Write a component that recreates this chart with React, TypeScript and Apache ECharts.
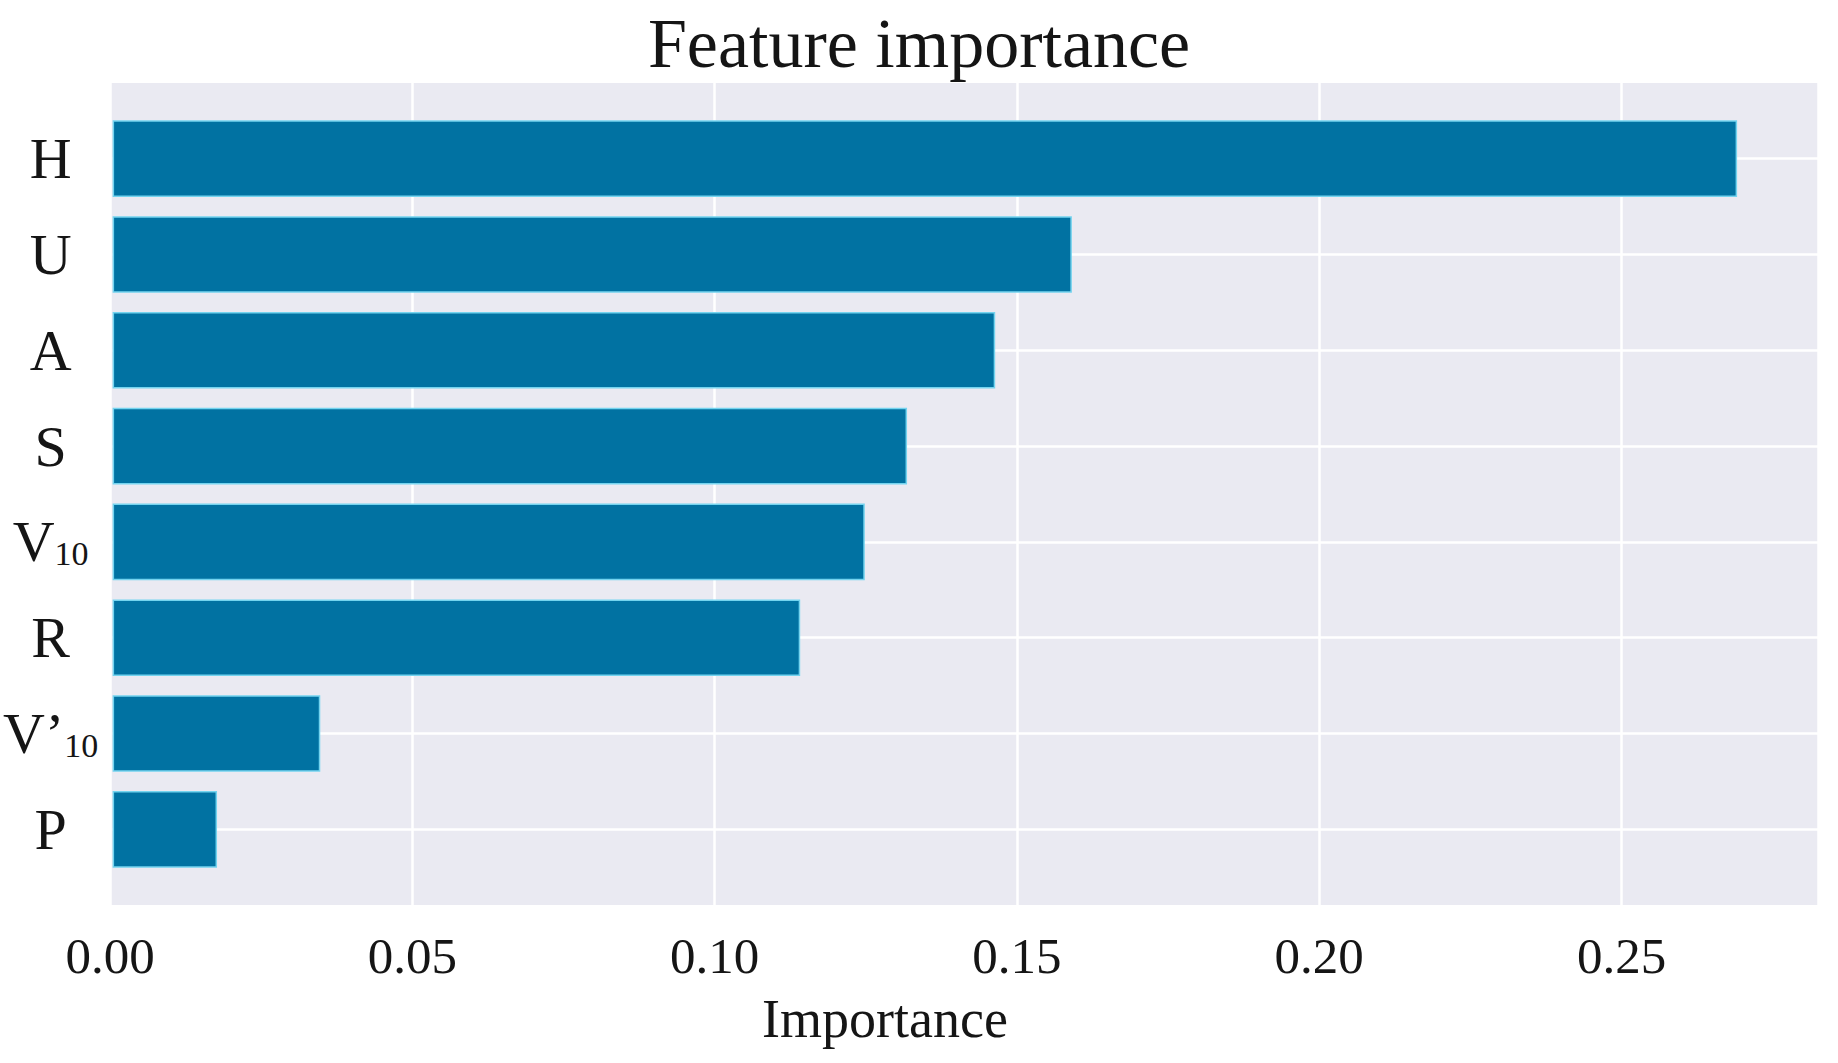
import React, { useEffect, useRef } from "react";
import * as echarts from "echarts";

const categories = ["H", "U", "A", "S", "V10", "R", "V’10", "P"];
const importance = [0.2691, 0.1589, 0.1462, 0.1316, 0.1246, 0.1139, 0.0344, 0.0173];
const xTicks = [0, 0.05, 0.1, 0.15, 0.2, 0.25];

const FONT = "'Liberation Serif', 'DejaVu Serif', serif";
const TEXT = "#151515";

function richLabel(v: string): string {
  const m = v.match(/^(.*?)(\d+)$/);
  if (m) return `{m|${m[1]}}{s|${m[2]}}`;
  return `{m|${v}}`;
}

export default function App() {
  const ref = useRef<HTMLDivElement>(null);
  useEffect(() => {
    document.body.style.margin = "0";
    if (!ref.current) return;
    const chart = echarts.init(ref.current, undefined, { renderer: "svg" });
    const plotLeft = 110;
    const plotRight = 20;
    const plotTop = 83;
    const plotH = 822;
    const band = plotH / 8.58;
    const inset = band * 0.79;
    const xMax = 0.2825;
    chart.setOption({
      animation: false,
      backgroundColor: "#ffffff",
      title: {
        text: "Feature importance",
        left: "center",
        top: 3,
        textStyle: { fontFamily: FONT, fontSize: 70, fontWeight: "normal", color: TEXT },
      },
      grid: [
        {
          left: plotLeft,
          right: plotRight,
          top: plotTop,
          height: plotH,
          show: true,
          backgroundColor: "#EAEAF2",
          borderWidth: 0,
          containLabel: false,
        },
        {
          left: plotLeft,
          right: plotRight,
          top: plotTop + inset,
          height: plotH - 2 * inset,
          containLabel: false,
        },
      ],
      xAxis: [
        {
          type: "value",
          gridIndex: 0,
          min: 0,
          max: xMax,
          interval: 0.05,
          axisLine: { show: false },
          axisTick: { show: false },
          splitLine: { show: true, lineStyle: { color: "#ffffff", width: 2.5 } },
          axisLabel: {
            fontFamily: FONT,
            fontSize: 51,
            color: TEXT,
            margin: 25,
            lineHeight: 52,
            formatter: (v: number) => (xTicks.some((t) => Math.abs(t - v) < 1e-9) ? v.toFixed(2) : ""),
          },
          name: "Importance",
          nameLocation: "middle",
          nameGap: 87,
          nameTextStyle: {
            fontFamily: FONT,
            fontSize: 54,
            color: TEXT,
            padding: [0, 158, 0, 0],
          },
        },
        {
          type: "value",
          gridIndex: 1,
          min: 0,
          max: xMax,
          show: false,
          splitLine: { show: false },
        },
      ],
      yAxis: [
        {
          type: "value",
          gridIndex: 0,
          show: false,
          min: 0,
          max: 1,
          splitLine: { show: false },
        },
        {
          type: "category",
          gridIndex: 1,
          data: categories,
          inverse: true,
          boundaryGap: false,
          axisLine: { show: false },
          axisTick: { show: false },
          splitLine: { show: true, lineStyle: { color: "#ffffff", width: 2.5 } },
          axisLabel: {
            align: "center",
            margin: 62,
            color: TEXT,
            formatter: (v: string) => richLabel(v),
            rich: {
              m: { fontFamily: FONT, fontSize: 58, lineHeight: 58, color: TEXT },
              s: {
                fontFamily: FONT,
                fontSize: 34,
                lineHeight: 36,
                verticalAlign: "bottom",
                color: TEXT,
              },
            },
          },
        },
      ],
      series: [
        {
          type: "bar",
          name: "Importance",
          xAxisIndex: 1,
          yAxisIndex: 1,
          data: importance,
          barWidth: "80%",
          clip: false,
          itemStyle: {
            color: "#0172A2",
            borderColor: "#74d4ef",
            borderWidth: 1.5,
          },
        },
      ],
    });
    return () => chart.dispose();
  }, []);
  return <div ref={ref} style={{ width: 1838, height: 1063 }} />;
}
